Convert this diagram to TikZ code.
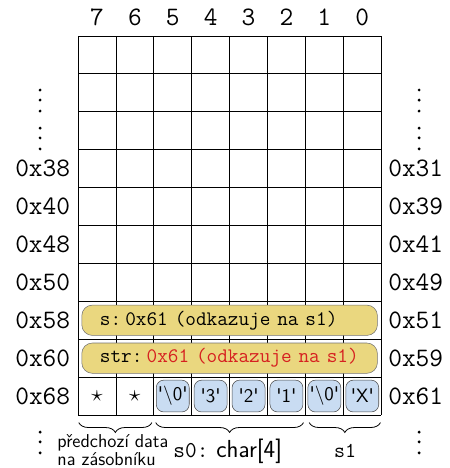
\documentclass[tikz,border=0pt]{standalone}
\usepackage{xcolor}
\usepackage{tikz}
\usetikzlibrary{positioning, decorations.pathreplacing}
\definecolor{pillyellow}{HTML}{EAD77F}
\definecolor{charblue}{HTML}{C9DCF2}
\definecolor{ptrred}{HTML}{D62020}
\newcommand{\chq}[1]{\textquotesingle#1\textquotesingle}
\tikzset{
    addr/.style={font=\fontsize{20}{24}\selectfont\ttfamily, inner sep=0pt},
    pill/.style={rectangle, rounded corners=0.28cm, minimum width=7.8cm, minimum height=0.8cm, text width=6.84cm, inner xsep=0.48cm, align=left, draw=black!55, fill=pillyellow, font=\fontsize{15.5}{17}\selectfont\ttfamily},
    charbox/.style={rectangle, rounded corners=0.2cm, minimum width=0.87cm, minimum height=0.84cm, inner sep=0pt, draw=black!70, fill=charblue, font=\fontsize{14.5}{16}\selectfont\sffamily},
    brace/.style={decorate, decoration={brace, mirror, amplitude=0.26cm}, line width=0.6pt},
    memdot/.style={fill=black}
}

\begin{document}
\begin{tikzpicture}
    \useasboundingbox (-2.058,-1.398) rectangle (9.789,10.95);

    % the memory grid
    \draw [line width=0.6pt] (0,0) grid (8,10);

    % byte numbers on top
    \foreach \b in {0,...,7}
        \node (bit\b) [addr] at (7.5-\b, 10.5) {\b};

    % addresses
    \foreach \r/\la/\ra in {0/0x68/0x61, 1/0x60/0x59, 2/0x58/0x51, 3/0x50/0x49, 4/0x48/0x41, 5/0x40/0x39, 6/0x38/0x31} {
        \node (left\r) [addr, anchor=east] at (-0.2, \r+0.5) {\la};
        \node (right\r) [addr, anchor=west] at (8.18, \r+0.5) {\ra};
    }

    % dots
    \foreach \y in {8.575, 8.31, 8.02, 7.57, 7.31, 7.02, -0.45, -0.71, -1.0} {
        \fill [memdot] (-1.0, \y) circle (0.042);
        \fill [memdot] (9.0, \y) circle (0.042);
    }

    % pointers
    \node (ptrs) [pill] at (4, 2.5) {s:\hspace{0.2em}0x61 (odkazuje na s1)};
    \node (ptrstr) [pill] at (4, 1.5) {str:\hspace{0.2em}\textcolor{ptrred}{0x61 (odkazuje na s1)}};

    % bytes of the strings
    \node (star7) [font=\fontsize{17}{19}\selectfont] at (0.5, 0.5) {$\star$};
    \node (star6) [font=\fontsize{17}{19}\selectfont] at (1.5, 0.5) {$\star$};
    \foreach \b/\t in {5/\textbackslash0, 4/3, 3/2, 2/1, 1/\textbackslash0, 0/X}
        \node (ch\b) [charbox] at (7.5-\b, 0.5) {\chq{\t}};

    % braces
    \coordinate (prevL) at (0.02, -0.2);
    \coordinate (prevR) at (1.95, -0.2);
    \coordinate (szeroL) at (2.05, -0.2);
    \coordinate (szeroR) at (5.95, -0.2);
    \coordinate (soneL) at (6.1, -0.2);
    \coordinate (soneR) at (7.98, -0.2);
    \draw [brace] (prevL) -- (prevR);
    \draw [brace] (szeroL) -- (szeroR);
    \draw [brace] (soneL) -- (soneR);

    \node (prevlbl) [anchor=north west, align=left, inner sep=0pt, font=\fontsize{14}{12}\selectfont\sffamily] at (-0.55, -0.52) {předchozí data\\na zásobníku};
    \node (szerolbl) [anchor=base, inner sep=0pt] at (3.95, -1.11) {\fontsize{17}{19}\selectfont\texttt{s0:}\hspace{0.35em}\fontsize{18.5}{20}\selectfont\textsf{char[4]}};
    \node (sonelbl) [anchor=base, inner sep=0pt, font=\fontsize{16}{18}\selectfont\ttfamily] at (7.05, -1.11) {s1};
\end{tikzpicture}
\end{document}
